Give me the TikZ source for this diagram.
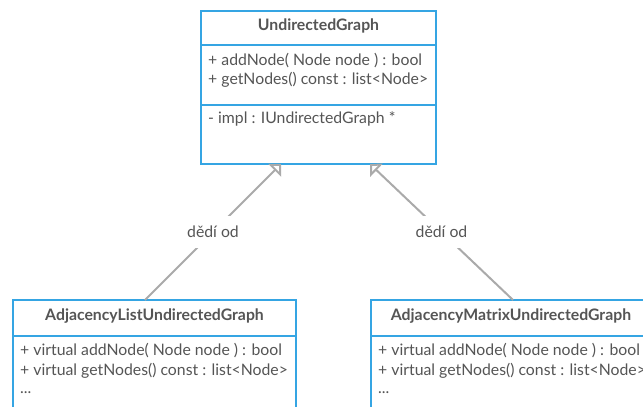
\documentclass[tikz,border=0pt]{standalone}
\usepackage{fontspec}
\setmainfont{Lato}
\usetikzlibrary{arrows.meta}
\definecolor{umlblue}{HTML}{35A5E3}
\definecolor{umltext}{HTML}{555555}
\definecolor{umlline}{HTML}{AAAAAA}
\begin{document}
\begin{tikzpicture}[x=1pt,y=-1pt,
  classbox/.style={draw=umlblue, line width=2pt, fill=white, inner sep=0pt, outer sep=0pt},
  divider/.style={draw=umlblue, line width=2pt},
  title/.style={font=\fontsize{15.8}{19}\selectfont\bfseries, text=umltext, anchor=base, inner sep=0pt},
  member/.style={font=\fontsize{15.8}{19}\selectfont, text=umltext, anchor=base west, inner sep=0pt},
  inherit/.style={draw=umlline, line width=2pt, -{Triangle[open, length=9pt, width=18pt, line width=2pt]}},
  lbl/.style={font=\fontsize{15.8}{19}\selectfont, text=umltext, fill=white, minimum height=32pt, inner xsep=2pt}
]
\useasboundingbox (0,0) rectangle (643,407);
\clip (0,0) rectangle (643,407);
% top class
\node[classbox, minimum width=235pt, minimum height=153pt] (ug) at (318.5,87.5) {};
\draw[divider] ([yshift=-34pt]ug.north west) -- ([yshift=-34pt]ug.north east);
\draw[divider] ([yshift=-94pt]ug.north west) -- ([yshift=-94pt]ug.north east);
\node[title] (ugt) at (318.5,30.5) {UndirectedGraph};
\node[member] (ug1) at (208,65) {+ addNode( Node node ) : bool};
\node[member] (ug2) at (208,84.5) {+ getNodes() const : list<Node>};
\node[member] (ug3) at (208,123.5) {- impl : IUndirectedGraph *};
% bottom left class
\node[classbox, minimum width=283pt, minimum height=130pt] (al) at (154.5,365) {};
\draw[divider] ([yshift=-36pt]al.north west) -- ([yshift=-36pt]al.north east);
\node[title] (alt) at (154.5,320.5) {AdjacencyListUndirectedGraph};
\node[member] (al1) at (20,355.5) {+ virtual addNode( Node node ) : bool};
\node[member] (al2) at (20,375.5) {+ virtual getNodes() const : list<Node>};
\node[member] (al3) at (20,393) {...};
% bottom right class
\node[classbox, minimum width=283pt, minimum height=130pt] (am) at (512.5,365) {};
\draw[divider] ([yshift=-36pt]am.north west) -- ([yshift=-36pt]am.north east);
\node[title] (amt) at (511,320.5) {AdjacencyMatrixUndirectedGraph};
\node[member] (am1) at (378,355.5) {+ virtual addNode( Node node ) : bool};
\node[member] (am2) at (378,375.5) {+ virtual getNodes() const : list<Node>};
\node[member] (am3) at (378,393) {...};
% connectors
\coordinate (a1) at ([xshift=132pt]al.north west);
\coordinate (t1) at ([xshift=80pt]ug.south west);
\coordinate (a2) at ([xshift=142pt]am.north west);
\coordinate (t2) at ([xshift=169pt]ug.south west);
\draw[inherit] (a1) -- node[lbl] (l1) {dědí od} (t1);
\draw[inherit] (a2) -- node[lbl] (l2) {dědí od} (t2);
\end{tikzpicture}
\end{document}
